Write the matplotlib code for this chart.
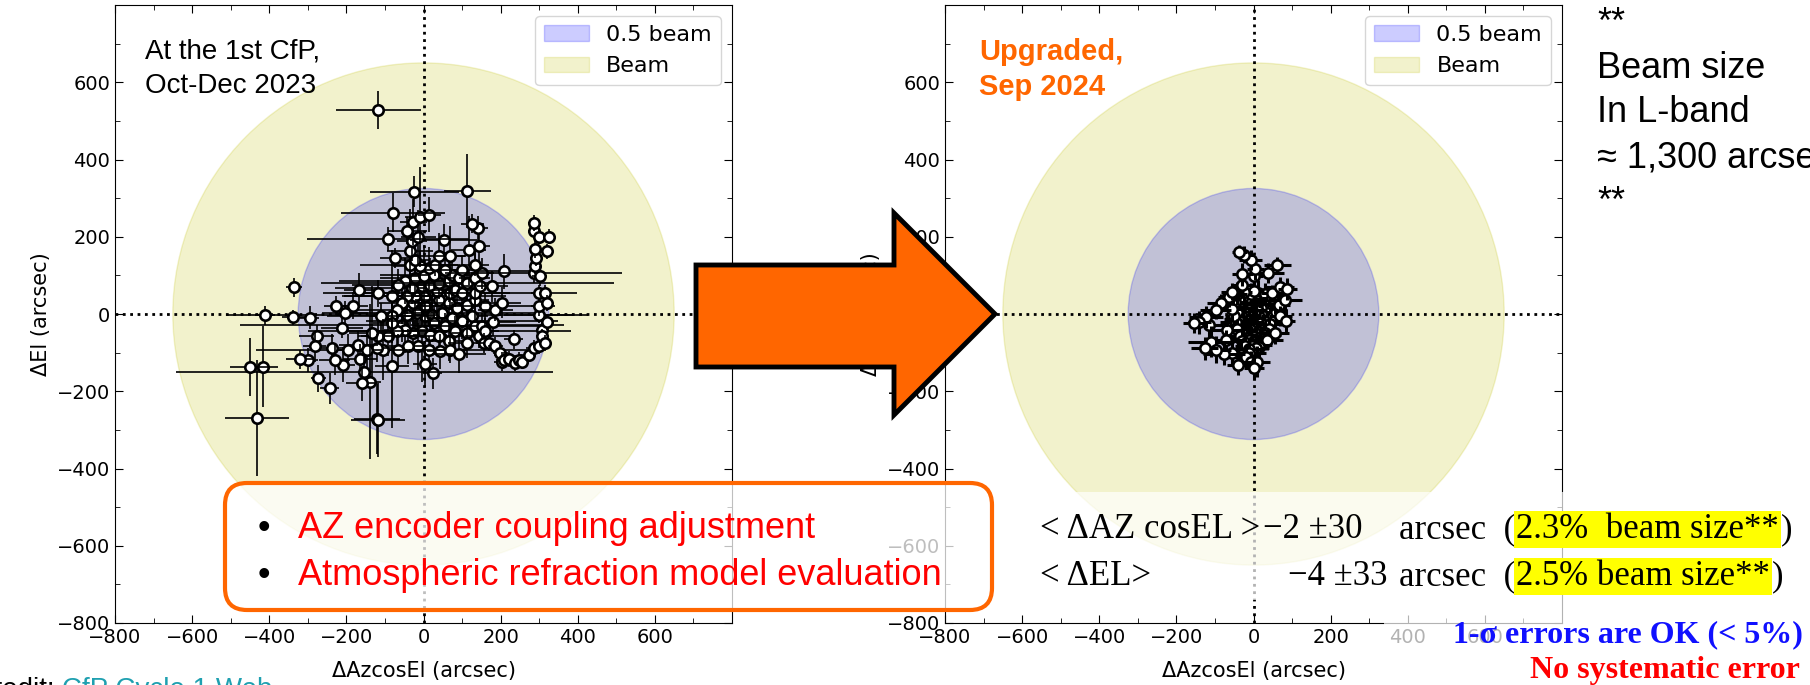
import matplotlib.pyplot as plt
from matplotlib.patches import Circle, Polygon, FancyBboxPatch, Rectangle, Patch
from matplotlib.transforms import Affine2D
from matplotlib.ticker import MultipleLocator

W, H = 1810, 685
BEAM = 650          # rayon du lobe en bande L (~1300 arcsec / 2)

# --- pointage au 1er CfP (oct-dec 2023) ---
left_x = [
    -24, 114, -80, -9, 15, -26, -42, -13, -91, 54,
    127, 141, -30, 117, 143, -74, -35, -22, 39, 68,
    100, 134, 133, 152, -35, -9, 13, 30, 56, 74,
    26, 0, -22, -48, -65, -4, 17, 39, 65, 91,
    113, 147, 178, 208, 134, 100, 69, 35, 4, -22,
    -43, -82, -117, -166, -228, -184, -204, -336, -338, -295,
    -212, -277, -282, -321, -299, -273, -243, -160, -140, -153,
    -121, -82, 4, 24, 91, 180, 204, 286, 286, 299,
    325, 288, 319, 292, 290, 286, 301, 299, 316, 321,
    299, 299, 321, 306, 306, 316, 299, 286, 273, 256,
    238, 247, 221, 208, 199, 186, 169, 156, 234, 143,
    113, 152, 126, 100, 74, 48, 22, 4, -17, -43,
    -69, -82, -111, -134, -117, -91, -69, -48, -26, -4,
    17, 39, 65, 13, -13, -39, -65, -104, -121, -147,
    -169, -195, -208, -165, -238, -230, 43, 69, 113, 204,
    39, 65, 87, 113, 134, 160, 186, 82, 22, -30,
    -56, -26, 4, 26, 56, 82, 134, 160, -56, -82,
    -117, -411, -451, -417, -432, -117]
left_y = [
    316, 318, 262, 251, 257, 238, 216, 200, 194, 192,
    234, 223, 188, 165, 175, 145, 162, 141, 151, 149,
    115, 128, 93, 106, 128, 124, 119, 128, 115, 102,
    102, 98, 93, 85, 76, 72, 76, 80, 85, 93,
    80, 72, 72, 111, 55, 55, 55, 59, 46, 46,
    46, 46, 54, 61, 22, 22, 3, 69, -9, -10,
    -36, -58, -84, -117, -119, -166, -192, -179, -175, -151,
    -272, -134, -130, -153, -103, -22, 29, 236, 214, 200,
    200, 169, 162, 145, 124, 106, 98, 54, 54, 29,
    20, -3, -22, -41, -58, -75, -84, -88, -105, -123,
    -127, -118, -117, -118, -101, -84, -75, -75, -66, -58,
    -49, -32, -6, -19, -10, 3, -2, 20, 3, -2,
    11, -6, -6, -48, -58, -58, -45, -41, -49, -45,
    -54, -58, -71, -92, -84, -84, -92, -92, -88, -92,
    -79, -92, -131, -117, -88, -119, -97, -92, -75, -123,
    37, 29, 16, 24, 37, 20, 11, 63, 63, 67,
    29, 29, -6, -23, -32, -45, -32, -45, -28, -23,
    528, -3, -137, -137, -269, -274]
left_ex = [
    115, 60, 135, 40, 30, 35, 50, 45, 210, 90,
    30, 25, 40, 45, 30, 40, 60, 35, 70, 40,
    55, 35, 40, 30, 130, 70, 45, 60, 50, 35,
    140, 60, 90, 170, 120, 80, 40, 60, 45, 35,
    380, 45, 40, 70, 90, 40, 330, 60, 210, 45,
    60, 130, 55, 40, 30, 40, 60, 20, 30, 25,
    55, 45, 30, 35, 25, 20, 25, 40, 30, 490,
    60, 45, 30, 25, 70, 60, 50, 15, 15, 15,
    15, 15, 15, 15, 15, 230, 20, 20, 15, 15,
    20, 90, 15, 15, 15, 15, 15, 20, 15, 15,
    15, 15, 15, 20, 20, 20, 25, 20, 25, 35,
    40, 180, 40, 250, 60, 240, 50, 45, 70, 470,
    100, 60, 140, 60, 45, 80, 230, 55, 70, 40,
    45, 190, 60, 50, 40, 50, 370, 60, 45, 40,
    50, 35, 30, 45, 30, 40, 35, 45, 50, 20,
    60, 50, 45, 40, 35, 180, 45, 55, 50, 200,
    60, 45, 40, 55, 50, 300, 40, 35, 420, 50,
    110, 25, 50, 40, 82, 70]
left_ey = [
    40, 95, 50, 130, 45, 60, 35, 70, 30, 40,
    25, 30, 50, 90, 40, 25, 110, 40, 60, 80,
    35, 30, 70, 40, 60, 40, 55, 30, 45, 60,
    35, 80, 45, 60, 40, 50, 70, 40, 55, 35,
    45, 30, 40, 45, 50, 35, 45, 60, 40, 90,
    45, 120, 35, 45, 25, 35, 30, 25, 20, 30,
    25, 30, 40, 25, 30, 35, 40, 45, 200, 40,
    90, 160, 60, 40, 50, 35, 40, 20, 20, 20,
    20, 25, 20, 20, 20, 25, 25, 20, 20, 20,
    25, 20, 20, 20, 20, 20, 20, 20, 20, 20,
    20, 20, 20, 20, 20, 25, 20, 25, 25, 30,
    30, 35, 30, 45, 40, 55, 70, 40, 45, 50,
    60, 40, 35, 120, 40, 50, 45, 60, 40, 130,
    45, 40, 50, 35, 60, 45, 40, 80, 35, 50,
    35, 40, 45, 40, 35, 40, 45, 35, 40, 25,
    45, 40, 55, 35, 40, 35, 30, 45, 60, 40,
    55, 45, 50, 40, 35, 40, 30, 35, 45, 40,
    50, 25, 75, 105, 150, 95]

# --- apres la mise a niveau (sep 2024) : points isoles ---
out_x = [-37, -25, -7, 4, 62, -29, 1, 38, -29, 68,
         88, 82, 49, 1, 30, 66, 83, 70, -85, -98,
         -123, -141, -154, -115, -111, -126, -98, -76, -57, -33,
         -20, -39, -7, 10, 1, -12, 36, 57, -72, -68,
         -55, -63]
out_y = [161, 153, 140, 116, 127, 103, 98, 105, 75, 71,
         64, 36, 54, 60, 51, 23, -17, -5, 29, 10,
         -7, -22, -24, -28, -72, -89, -92, -104, -100, -106,
         -111, -132, -124, -124, -141, -102, -67, -50, -67, -41,
         58, 45]
out_ex = [20, 25, 30, 22, 35, 28, 24, 40, 30, 38,
          25, 45, 30, 26, 35, 28, 24, 30, 35, 40,
          45, 30, 28, 50, 60, 35, 40, 55, 30, 25,
          35, 30, 28, 32, 26, 45, 40, 35, 50, 45,
          30, 28]
out_ey = [18, 22, 25, 28, 20, 30, 22, 26, 30, 24,
          28, 26, 22, 30, 28, 25, 30, 26, 24, 22,
          28, 30, 26, 32, 40, 30, 35, 28, 30, 35,
          30, 25, 28, 40, 30, 32, 26, 28, 25, 30,
          22, 26]

# --- coeur dense du nuage (sep 2024) ---
core_x = [-52, -43, -31, -25, -14, -7, 4, 11, 22, 29, 41, 47,
          -49, -36, -29, -17, -11, 0, 7, 18, 25, 36, 43, 56,
          -57, -44, -36, -25, -18, -7, 2, 9, 20, 27, 38, 45, 58,
          -51, -39, -32, -21, -12, -5, 6, 13, 24, 31, 42, 51,
          -45, -37, -26, -19, -8, 1, 8, 19, 26, 37, 44,
          -43, -31, -24, -13, -6, 5, 12, 23, 30, 41,
          -36, -28, -17, -10, 1, 8, 19, 26, 37,
          -31, -19, -12, -1, 6, 17, 24,
          -23, -11, -4, 7, 14]
core_y = [48, 53, 41, 57, 45, 52, 38, 55, 44, 50, 36, 42,
          30, 25, 34, 22, 31, 27, 35, 24, 32, 20, 29, 26,
          12, 6, 15, 9, 3, 14, 7, 11, 2, 13, 5, 10, 4,
          -5, -12, -2, -9, -15, -4, -11, -7, -14, -3, -10, -6,
          -22, -28, -19, -31, -25, -20, -29, -24, -33, -21, -27,
          -40, -45, -37, -48, -42, -39, -46, -41, -50, -38,
          -58, -53, -62, -56, -60, -52, -59, -55, -63,
          -70, -76, -68, -73, -79, -71, -66,
          -84, -90, -82, -88, -86]
core_ex = [30, 25, 40, 22, 35, 28, 45, 20, 33, 27, 38, 24,
           26, 42, 21, 36, 29, 44, 23, 31, 39, 25, 34, 28,
           35, 22, 41, 27, 32, 24, 46, 30, 21, 37, 26, 43, 29,
           24, 38, 28, 45, 21, 33, 27, 40, 25, 36, 22, 31,
           41, 26, 34, 23, 39, 28, 44, 21, 32, 27, 37,
           29, 43, 22, 35, 26, 40, 24, 31, 38, 23,
           33, 25, 42, 28, 36, 22, 30, 45, 27,
           38, 24, 31, 27, 43, 21, 35,
           26, 40, 29, 34, 23]
core_ey = [25, 30, 18, 35, 22, 28, 20, 33, 24, 27, 19, 31,
           21, 34, 26, 19, 30, 23, 36, 20, 28, 32, 22, 25,
           30, 20, 27, 35, 18, 29, 24, 33, 21, 26, 31, 19, 28,
           23, 31, 20, 27, 34, 19, 28, 25, 36, 22, 30, 24,
           33, 22, 29, 18, 26, 35, 21, 31, 24, 28, 20,
           27, 19, 32, 24, 36, 21, 29, 23, 30, 26,
           20, 34, 25, 28, 22, 31, 27, 35, 23,
           29, 24, 33, 19, 27, 30, 22,
           31, 25, 28, 22, 34]

ticks = list(range(-800, 601, 200))

fig = plt.figure(figsize=(W / 100, H / 100), dpi=100)
# repere en pixels de l'image, origine en haut a gauche
px = Affine2D().scale(1 / W, -1 / H).translate(0, 1) + fig.transFigure
renderer = fig.canvas.get_renderer()


def panel(left, x, y, ex, ey, elw):
    ax = fig.add_axes([left / W, 62 / H, 617 / W, 618 / H])
    ax.add_patch(Circle((0, 0), BEAM, color='y', alpha=0.2, zorder=0))
    ax.add_patch(Circle((0, 0), BEAM / 2, color='b', alpha=0.2, zorder=0))
    ax.axhline(0, color='k', ls=':', lw=2, zorder=1)
    ax.axvline(0, color='k', ls=':', lw=2, zorder=1)
    # un appel par point, du centre vers l'exterieur : les barres des points
    # traces ensuite recouvrent les marqueurs deja poses
    pts = sorted(zip(x, y, ex, ey), key=lambda p: p[0] ** 2 + p[1] ** 2)
    for i, (xi, yi, exi, eyi) in enumerate(pts):
        ax.errorbar(xi, yi, xerr=exi, yerr=eyi, fmt='o', color='k', mfc='white', mec='k',
                    ms=7.5, mew=1.9, elinewidth=elw, zorder=2 + 0.2 * i)
    ax.set_xlim(-800, 800)
    ax.set_ylim(-800, 800)
    ax.set_xticks(ticks)
    ax.set_yticks(ticks)
    ax.xaxis.set_minor_locator(MultipleLocator(100))
    ax.yaxis.set_minor_locator(MultipleLocator(100))
    ax.tick_params(which='both', direction='in', top=True, right=True, labelsize=14)
    ax.tick_params(which='major', length=6)
    ax.tick_params(which='minor', length=3.5)
    ax.set_xlabel('ΔAzcosEl (arcsec)', fontsize=15, labelpad=10)
    ax.set_ylabel('ΔEl (arcsec)', fontsize=15)
    leg = ax.legend([Patch(color='b', alpha=0.2), Patch(color='y', alpha=0.2)],
                    ['0.5 beam', 'Beam'], loc='upper right', fontsize=16)
    leg.set_zorder(500)
    return ax


ax1 = panel(115, left_x, left_y, left_ex, left_ey, 1.2)
ax2 = panel(945, out_x + core_x, out_y + core_y, out_ex + core_ex, out_ey + core_ey, 2.2)

sans = 'Liberation Sans'
serif = 'Liberation Serif'


def txt(x, y, s, **kw):
    return fig.text(x, y, s, transform=px, va='baseline', **kw)


def after(t, gap=2):
    return t.get_window_extent(renderer).x1 + gap


txt(145, 58, 'At the 1st CfP,', fontsize=20, family=sans)
txt(145, 93, 'Oct-Dec 2023', fontsize=20, family=sans)
txt(979, 60, 'Upgraded,', fontsize=21, family=sans, weight='bold', color='#FF6600')
txt(979, 95, 'Sep 2024', fontsize=21, family=sans, weight='bold', color='#FF6600')

# grosse fleche orange
arrow = [(696, 265), (894, 265), (894, 213), (995, 314), (894, 415), (894, 367), (696, 367)]
fig.add_artist(Polygon(arrow, closed=True, transform=px, fc='#FF6600', ec='k',
                       lw=3.5, joinstyle='miter', zorder=5))

# encadre des actions correctives
fig.add_artist(FancyBboxPatch((225, 483), 767, 127, boxstyle='round,pad=0,rounding_size=22',
                              transform=px, fc=(1, 1, 1, 0.75), ec='#FF6600', lw=3, zorder=4))
for yb, s in [(538, 'AZ encoder coupling adjustment'), (585, 'Atmospheric refraction model evaluation')]:
    txt(258, yb, '•', fontsize=26, family=sans, zorder=6)
    txt(298, yb, s, fontsize=26, family=sans, color='red', zorder=6)

# voiles blancs sous les resultats
fig.add_artist(Rectangle((992, 492), 583, 108, transform=px, fc='white', alpha=0.7, ec='none', zorder=3))
fig.add_artist(Rectangle((1384, 600), 426, 85, transform=px, fc='white', alpha=0.7, ec='none', zorder=3))

# resultats : (ligne, libelle, valeur, x, pourcentage)
stats = [(538, '< ΔAZ cosEL >', '−2 ±30', 1263, '2.3%  beam size**'),
         (585, '< ΔEL>', '−4 ±33', 1288, '2.5% beam size**')]
for yb, lab, val, xv, pct in stats:
    kw = dict(fontsize=25, family=serif, zorder=6)
    txt(1040, yb, lab, **kw)
    txt(xv, yb, val, **kw)
    t = txt(1399, yb, 'arcsec  (', **kw)
    t = txt(after(t, 1), yb, pct, bbox=dict(fc='yellow', ec='none', pad=1.5), **kw)
    txt(after(t, 2), yb, ')', **kw)

txt(1803, 642, '1-σ errors are OK (< 5%)', ha='right', fontsize=23, family=serif,
    weight='bold', color='#1010FF', zorder=6)
txt(1800, 678, 'No systematic error', ha='right', fontsize=23, family=serif,
    weight='bold', color='red', zorder=6)

# note sur la taille du lobe
for yb, s in [(33, '**'), (78, 'Beam size'), (122, 'In L-band'), (167, '≈ 1,300 arcsec'), (212, '**')]:
    txt(1597, yb, s, fontsize=26, family=sans)

txt(55, 697, 'Credit:', ha='right', fontsize=20, family=sans)
txt(62, 697, 'CfP Cycle 1 Web', fontsize=20, family=sans, color='#1FA0B0')

plt.savefig('out.png', dpi=100)
